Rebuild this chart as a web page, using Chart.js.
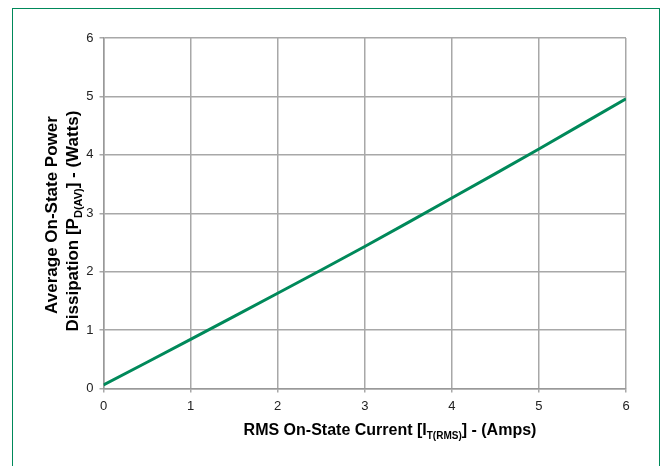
<!DOCTYPE html>
<html>
<head>
<meta charset="utf-8">
<title>On-State Power Dissipation</title>
<script src="https://cdn.jsdelivr.net/npm/chart.js"></script>
<style>
  html, body { margin: 0; padding: 0; background: #fff; overflow: hidden; }
  #wrap { position: relative; width: 663px; height: 466px; }
  #frame {
    position: absolute; left: 12px; top: 8px; width: 646px; height: 480px;
    border: 1.5px solid #00895a; pointer-events: none;
  }
</style>
</head>
<body>
<div id="wrap">
  <canvas id="powerChart" width="663" height="466"></canvas>
  <div id="frame"></div>
</div>
<script>
// data
const currentAmps = [0, 1, 2, 3, 4, 5, 6];
const powerWatts = [0.06, 0.84, 1.63, 2.43, 3.26, 4.10, 4.96];
const xTicks = [0, 1, 2, 3, 4, 5, 6];
const yTicks = [0, 1, 2, 3, 4, 5, 6];

const FONT = "'Liberation Sans', Arial, sans-serif";

// draw text pieces, some as subscripts, starting at x
function drawParts(ctx, parts, x, y, size) {
  parts.forEach(p => {
    ctx.font = "bold " + (p.sub ? Math.round(size * 0.62) : size) + "px " + FONT;
    ctx.fillText(p.t, x, y + (p.sub ? 4 : 0));
    x += ctx.measureText(p.t).width;
  });
}
function partsWidth(ctx, parts, size) {
  let w = 0;
  parts.forEach(p => {
    ctx.font = "bold " + (p.sub ? Math.round(size * 0.62) : size) + "px " + FONT;
    w += ctx.measureText(p.t).width;
  });
  return w;
}

const axisTitles = {
  id: 'axisTitles',
  afterDraw(chart) {
    const ctx = chart.ctx;
    ctx.save();
    ctx.fillStyle = '#000';
    ctx.textBaseline = 'alphabetic';
    ctx.textAlign = 'left';

    // x title
    const xParts = [
      { t: 'RMS On-State Current [I' },
      { t: 'T(RMS)', sub: true },
      { t: '] - (Amps)' }
    ];
    drawParts(ctx, xParts, 390 - partsWidth(ctx, xParts, 16) / 2, 435, 16);

    // y title, two lines rotated
    const line1 = [{ t: 'Average On-State Power' }];
    const line2 = [
      { t: 'Dissipation [P' },
      { t: 'D(AV)', sub: true },
      { t: '] - (Watts)' }
    ];
    ctx.rotate(-Math.PI / 2);
    drawParts(ctx, line1, -215 - partsWidth(ctx, line1, 17) / 2, 56.5, 17);
    drawParts(ctx, line2, -221 - partsWidth(ctx, line2, 17) / 2, 77.5, 17);
    ctx.restore();
  }
};

const ctx = document.getElementById('powerChart').getContext('2d');
new Chart(ctx, {
  type: 'line',
  data: {
    datasets: [{
      data: currentAmps.map((a, i) => ({ x: a, y: powerWatts[i] })),
      borderColor: '#00895a',
      borderWidth: 3,
      pointRadius: 0,
      fill: false,
      tension: 0.3
    }]
  },
  options: {
    responsive: false,
    animation: false,
    layout: { padding: { left: 0, right: 37, top: 38, bottom: 0 } },
    plugins: {
      legend: { display: false },
      tooltip: { enabled: false }
    },
    scales: {
      x: {
        type: 'linear',
        min: 0, max: 6,
        afterBuildTicks: s => { s.ticks = xTicks.map(v => ({ value: v })); },
        afterFit: s => { s.height = 77.5; },
        ticks: { color: '#222', font: { family: FONT, size: 13 }, padding: 6 },
        grid: { color: '#a8a8a8', lineWidth: 1.5, tickLength: 4, tickColor: '#a8a8a8' },
        border: { color: '#999', width: 1.5 }
      },
      y: {
        type: 'linear',
        min: 0, max: 6,
        afterBuildTicks: s => { s.ticks = yTicks.map(v => ({ value: v })); },
        afterFit: s => { s.width = 103.5; },
        ticks: { color: '#222', font: { family: FONT, size: 13 }, padding: 6 },
        grid: { color: '#a8a8a8', lineWidth: 1.5, tickLength: 4, tickColor: '#a8a8a8' },
        border: { color: '#999', width: 1.5 }
      }
    }
  },
  plugins: [axisTitles]
});
</script>
</body>
</html>
